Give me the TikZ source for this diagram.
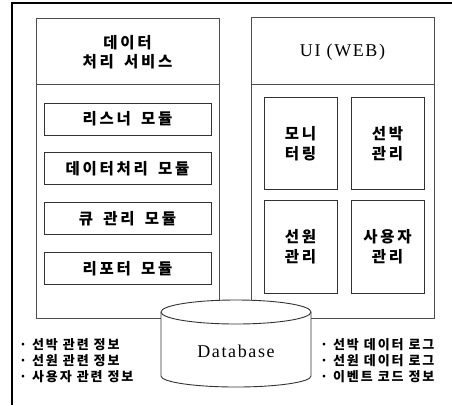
\documentclass[tikz,border=0pt]{standalone}
\usepackage{fontspec}
\setmainfont{Liberation Serif}
\newfontfamily\kr[LetterSpace=18,WordSpace=1.6]{Noto Sans CJK KR}
\newfontfamily\krs[LetterSpace=15]{Noto Sans CJK KR}
\newfontfamily\lat[LetterSpace=9]{Liberation Serif}
\begin{document}
\begin{tikzpicture}[x=1pt,y=-1pt,
  panel/.style={draw=black!70,line width=0.9pt,inner sep=0pt},
  modbox/.style={draw=black!80,line width=0.9pt,inner sep=0pt,minimum width=167pt,minimum height=32pt,font=\kr\bfseries\fontsize{15.5}{19}\selectfont},
  subbox/.style={draw=black!80,line width=0.9pt,inner sep=0pt,minimum width=73pt,minimum height=92pt,align=center,font=\kr\bfseries\fontsize{15.5}{20}\selectfont},
  title/.style={align=center,font=\kr\bfseries\fontsize{15.5}{19}\selectfont},
  bullets/.style={align=left,inner sep=0pt,font=\krs\bfseries\fontsize{13}{16}\selectfont}]
\useasboundingbox (0,0) rectangle (452,405);
% outer frame
\coordinate (ftl) at (12,3);
\coordinate (ftr) at (452,3);
\coordinate (fbl) at (12,405);
\draw[line width=1.2pt] (ftr) -- (ftl) -- (fbl);
% left panel
\node[panel,minimum width=183pt,minimum height=300pt] (lp) at (127.5,168) {};
\coordinate (ld1) at (36,84);
\coordinate (ld2) at (219,84);
\draw[black!70,line width=0.9pt] (ld1) -- (ld2);
\node[title] (lt) at (127.5,52) {데이터\\처리 서비스};
\node[modbox] (m1) at (127.5,119) {리스너 모듈};
\node[modbox] (m2) at (127.5,168.5) {데이터처리 모듈};
\node[modbox] (m3) at (127.5,218.5) {큐 관리 모듈};
\node[modbox] (m4) at (127.5,268.5) {리포터 모듈};
% right panel
\node[panel,minimum width=183pt,minimum height=301pt] (rp) at (342.5,167.5) {};
\coordinate (rd1) at (251,84);
\coordinate (rd2) at (434,84);
\draw[black!70,line width=0.9pt] (rd1) -- (rd2);
\node[font=\lat\fontsize{18}{20}\selectfont] (rt) at (342.5,52) {UI (WEB)};
\node[subbox] (s1) at (300.5,143.5) {모니\\터링};
\node[subbox] (s2) at (387.5,143.5) {선박\\관리};
\node[subbox,minimum height=93pt] (s3) at (300.5,246.5) {선원\\관리};
\node[subbox,minimum height=93pt] (s4) at (387.5,246.5) {사용자\\관리};
% database cylinder
\coordinate (cyl) at (161,312);
\coordinate (cylb) at (161,376);
\filldraw[fill=white,draw=black!80,line width=0.9pt] (cyl) -- (cylb)
  arc[start angle=180,end angle=360,x radius=75pt,y radius=11pt]
  -- (311,312)
  arc[start angle=0,end angle=180,x radius=75pt,y radius=12pt] -- cycle;
\draw[black!80,line width=0.9pt] (cyl) arc[start angle=180,end angle=360,x radius=75pt,y radius=12pt];
\node[font=\lat\fontsize{18}{20}\selectfont] (db) at (236,351) {Database};
% bullet lists
\node[bullets,anchor=west] (bl) at (19,361) {· 선박 관련 정보\\· 선원 관련 정보\\· 사용자 관련 정보};
\node[bullets,anchor=west] (br) at (320,361) {· 선박 데이터 로그\\· 선원 데이터 로그\\· 이벤트 코드 정보};
\end{tikzpicture}
\end{document}
